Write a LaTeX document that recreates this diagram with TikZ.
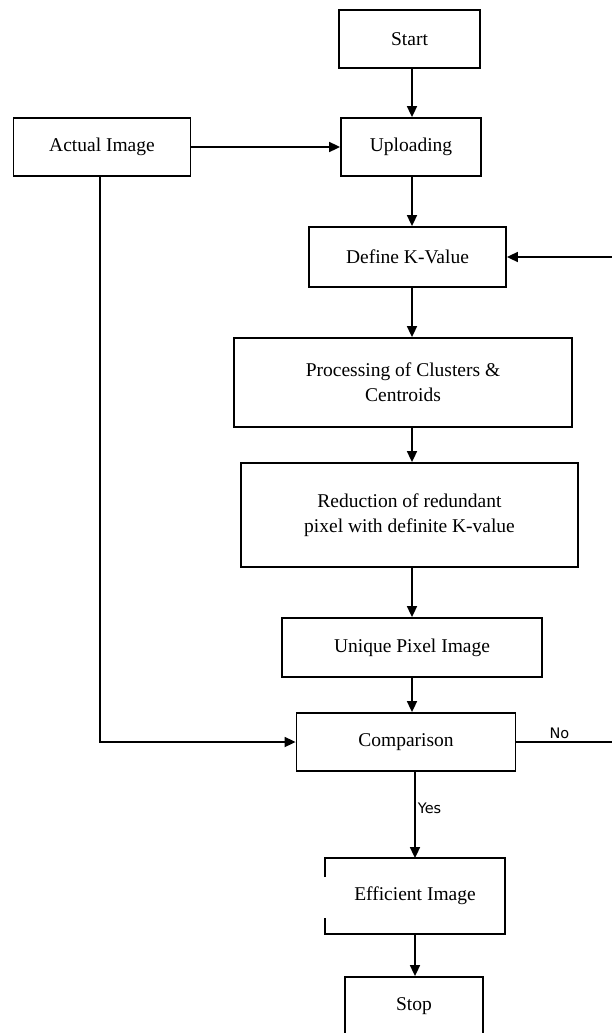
\documentclass[tikz,border=0pt]{standalone}
\usepackage{fontspec}
\setmainfont{Liberation Serif}
\newfontfamily\tagfont{DejaVu Sans}
\usepackage{tikz}
\usetikzlibrary{arrows.meta}

\begin{document}
\begin{tikzpicture}[x=1pt,y=-1pt,
  box/.style={draw, line width=1.8pt, align=center, inner sep=0pt,
    font=\fontsize{19.5}{25}\selectfont},
  arr/.style={line width=1.7pt, -{Triangle[length=11pt,width=10pt]}},
  tag/.style={font=\tagfont\fontsize{14.5}{16}\selectfont, inner sep=2pt}]
\clip (0,0) rectangle (612,1033);
\fill[white] (0,0) rectangle (612,1033);

% main column
\coordinate (col) at (412,0);
\node[box, minimum width=141pt, minimum height=58pt] (start) at (409.5,39) {Start};
\node[box, minimum width=140pt, minimum height=58pt] (upload) at (411,147) {Uploading};
\node[box, minimum width=177pt, minimum height=58pt] (actual) at (102,147) {Actual Image};
\node[box, minimum width=197pt, minimum height=60pt] (define) at (407.5,257) {Define K-Value};
\node[box, minimum width=338pt, minimum height=89pt] (proc) at (403,382.5) {Processing of Clusters \&\\Centroids};
\node[box, minimum width=337pt, minimum height=104pt] (reduce) at (409.5,515) {Reduction of redundant\\pixel with definite K-value};
\node[box, minimum width=260pt, minimum height=59pt] (unique) at (412,647.5) {Unique Pixel Image};
\node[box, minimum width=219pt, minimum height=58pt] (compare) at (406,742) {Comparison};
\node[box, draw=none, minimum width=178pt, minimum height=74pt] (eff) at (415,896) {Efficient Image};
\node[box, minimum width=138pt, minimum height=58pt] (stop) at (414,1006) {Stop};

% broken left side of the efficient image box
\draw[line width=1.8pt] ([yshift=-19pt]eff.north west) -- (eff.north west) -- (eff.north east)
  -- (eff.south east) -- (eff.south west) -- ([yshift=16pt]eff.south west);

% loop ends at the right border
\coordinate (kin) at (612,257);
\coordinate (noend) at (612,742);

\draw[arr] (start.south -| col) -- (upload.north -| col);
\draw[arr] (actual.east) -- (upload.west);
\draw[arr] (upload.south -| col) -- (define.north -| col);
\draw[arr] (define.south -| col) -- (proc.north -| col);
\draw[arr] (proc.south -| col) -- (reduce.north -| col);
\draw[arr] (reduce.south -| col) -- (unique.north -| col);
\draw[arr] (unique.south -| unique) -- (compare.north -| unique);
\draw[arr] ([xshift=-2pt]actual.south) |- (compare.west);
\draw[arr] (compare.south -| eff) -- node[tag, right, pos=0.42] {Yes} (eff.north);
\draw[arr] (eff.south) -- (stop.north -| eff);
\draw[line width=1.7pt] (compare.east) -- node[tag, above, pos=0.45] {No} (noend);
\draw[arr] (kin) -- (define.east);
\end{tikzpicture}
\end{document}
